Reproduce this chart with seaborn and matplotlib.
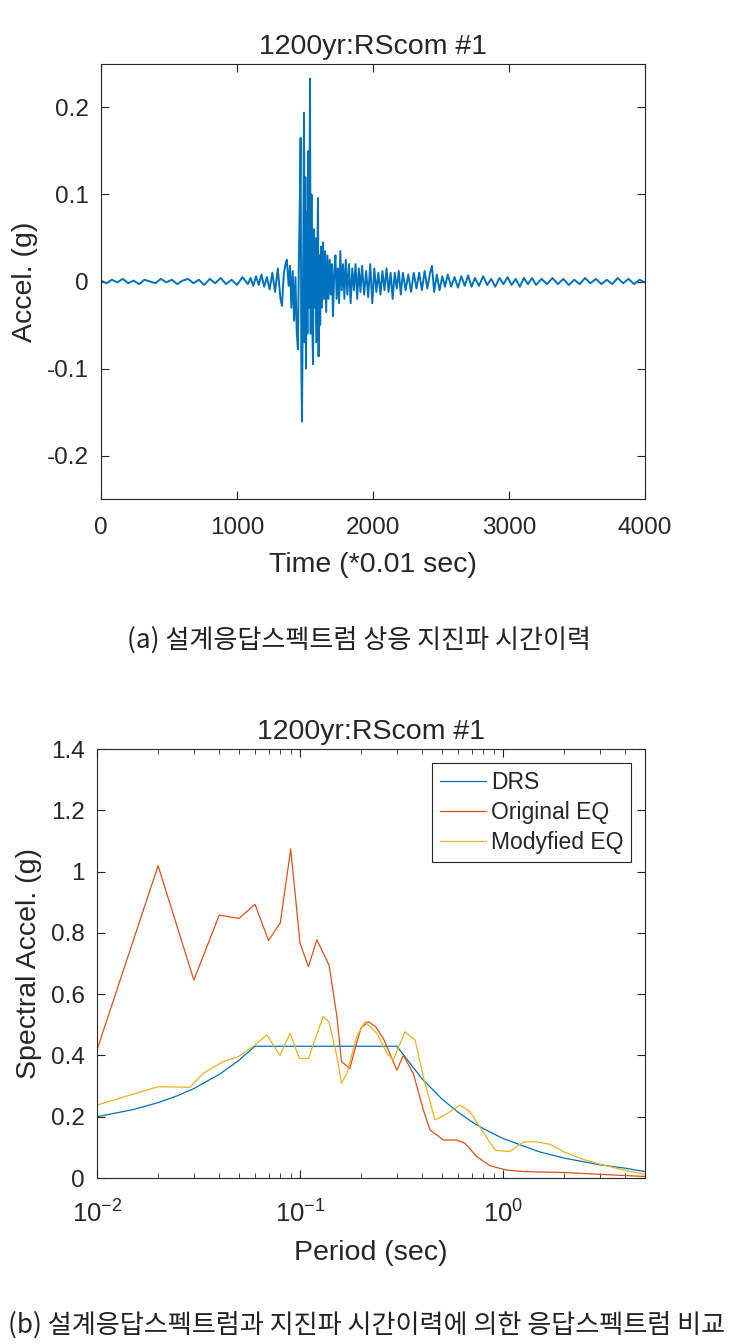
import seaborn as sns
import matplotlib.pyplot as plt
import matplotlib.ticker as mticker
import pandas as pd

# time history (a)
t_pre = [0, 40, 80, 120, 160, 200, 240, 280, 320, 360,
         400, 440, 480, 520, 560, 600, 640, 680, 720, 760,
         800, 840, 880, 920, 960, 1000, 1040, 1080]
a_pre = [0.001, -0.002, 0.002, -0.001, 0.003, -0.002, 0.001, -0.003, 0.002, 0.000,
         -0.002, 0.003, -0.001, 0.002, -0.003, 0.001, 0.003, -0.002, 0.002, -0.004,
         0.003, -0.002, 0.004, -0.003, 0.002, -0.004, 0.005, -0.003]

t_strong = [1100, 1120, 1140, 1160, 1180, 1200, 1220, 1240, 1260, 1280,
            1300, 1320, 1331, 1345, 1360, 1367, 1380, 1390, 1400, 1410,
            1420, 1430, 1440, 1448, 1455, 1462, 1468, 1473, 1478, 1483,
            1488, 1493, 1498, 1503, 1508, 1513, 1518, 1524, 1530, 1537,
            1542, 1548, 1553, 1559, 1565, 1571, 1577, 1583, 1590, 1596,
            1600, 1606, 1612, 1618, 1625, 1632, 1640]
a_strong = [0.004, -0.005, 0.006, -0.004, 0.008, -0.006, 0.005, -0.009, 0.010, -0.012,
            0.015, -0.020, -0.028, 0.010, 0.022, 0.025, -0.005, 0.018, -0.030, 0.012,
            -0.045, 0.005, -0.060, -0.078, 0.020, 0.090, 0.165, -0.090, -0.161, -0.050,
            0.050, 0.194, -0.070, 0.120, -0.100, 0.080, -0.060, 0.150, -0.030, 0.233,
            -0.060, 0.100, -0.040, -0.095, 0.060, -0.030, 0.050, -0.070, 0.020, 0.096,
            -0.086, 0.030, -0.050, 0.040, -0.030, 0.045, -0.020]

t_coda = [1648, 1656, 1665, 1673, 1682, 1690, 1698, 1706, 1715, 1724,
          1733, 1742, 1751, 1760, 1770, 1780, 1790, 1800, 1812, 1824,
          1836, 1848, 1860, 1872, 1884, 1896, 1908, 1920, 1935, 1950,
          1965, 1980, 1995, 2010, 2025, 2040, 2055, 2070, 2085, 2100,
          2115, 2130, 2145, 2160, 2175, 2190, 2205, 2220, 2240, 2260,
          2280, 2300, 2320, 2340, 2360, 2380, 2400, 2420, 2434, 2450,
          2470, 2490]
a_coda = [0.035, -0.035, 0.030, -0.020, 0.025, -0.015, 0.020, -0.040, 0.010, 0.030,
          -0.020, 0.015, -0.025, 0.035, -0.010, 0.020, -0.020, 0.025, -0.015, 0.020,
          -0.025, 0.015, -0.010, 0.020, -0.020, 0.015, -0.012, 0.018, -0.015, 0.012,
          -0.018, 0.020, -0.025, 0.015, -0.012, 0.010, -0.015, 0.012, -0.010, 0.015,
          -0.012, 0.010, -0.020, 0.010, -0.008, 0.012, -0.015, 0.010, -0.010, 0.008,
          -0.012, 0.010, -0.008, 0.010, -0.010, 0.012, -0.008, 0.010, 0.018, -0.012,
          0.008, -0.010]

t_tail = [2510, 2530, 2550, 2575, 2600, 2625, 2650, 2675, 2700, 2725,
          2750, 2780, 2810, 2840, 2870, 2900, 2930, 2960, 2990, 3020,
          3050, 3080, 3110, 3140, 3170, 3200, 3240, 3280, 3320, 3360,
          3400, 3440, 3480, 3520, 3560, 3600, 3640, 3680, 3720, 3760,
          3800, 3840, 3880, 3920, 3960, 4000]
a_tail = [0.006, -0.006, 0.008, -0.006, 0.005, -0.007, 0.006, -0.005, 0.007, -0.006,
          0.004, -0.005, 0.006, -0.004, 0.003, -0.006, 0.004, -0.003, 0.005, -0.004,
          0.003, -0.006, 0.004, -0.003, 0.004, -0.004, 0.003, -0.003, 0.004, -0.003,
          0.003, -0.004, 0.002, -0.003, 0.004, -0.002, 0.003, -0.003, 0.002, -0.003,
          0.004, -0.002, 0.003, -0.003, 0.002, -0.001]

th_time = t_pre + t_strong + t_coda + t_tail
th_accel = a_pre + a_strong + a_coda + a_tail

# response spectra (b)
period_drs = [0.01, 0.015, 0.02, 0.025, 0.03, 0.04, 0.05, 0.06, 0.3, 0.4,
              0.5, 0.6, 0.7, 0.8, 1.0, 1.5, 2.0, 3.0, 4.0, 5.0]
sa_drs = [0.200, 0.223, 0.246, 0.269, 0.292, 0.338, 0.384, 0.430, 0.430, 0.323,
          0.258, 0.215, 0.184, 0.161, 0.129, 0.086, 0.065, 0.043, 0.032, 0.021]

period_orig = [0.01, 0.02, 0.03, 0.04, 0.05, 0.06, 0.07, 0.08, 0.09, 0.1,
               0.11, 0.121, 0.139, 0.152, 0.16, 0.176, 0.19, 0.2, 0.217, 0.235,
               0.257, 0.3, 0.323, 0.362, 0.405, 0.437, 0.508, 0.592, 0.65, 0.742,
               0.863, 1.04, 1.26, 2.0, 3.0, 4.0, 5.0]
sa_orig = [0.418, 1.019, 0.646, 0.858, 0.847, 0.893, 0.775, 0.833, 1.074, 0.766,
           0.690, 0.777, 0.695, 0.527, 0.380, 0.358, 0.440, 0.490, 0.510, 0.495,
           0.456, 0.352, 0.401, 0.340, 0.222, 0.157, 0.124, 0.124, 0.113, 0.070,
           0.040, 0.026, 0.021, 0.018, 0.012, 0.008, 0.005]

period_mod = [0.01, 0.02, 0.0287, 0.0334, 0.0419, 0.0497, 0.06, 0.0686, 0.0797, 0.0893,
              0.0993, 0.11, 0.13, 0.139, 0.152, 0.16, 0.17, 0.19, 0.209, 0.239,
              0.268, 0.288, 0.329, 0.369, 0.405, 0.462, 0.518, 0.614, 0.688, 0.785,
              0.914, 1.08, 1.26, 1.47, 1.7, 2.0, 2.5, 3.0, 4.0, 5.0]
sa_mod = [0.238, 0.298, 0.296, 0.342, 0.380, 0.396, 0.434, 0.467, 0.400, 0.472,
          0.390, 0.390, 0.527, 0.510, 0.396, 0.309, 0.340, 0.461, 0.510, 0.472,
          0.407, 0.385, 0.477, 0.450, 0.330, 0.190, 0.206, 0.238, 0.216, 0.157,
          0.091, 0.086, 0.118, 0.118, 0.110, 0.085, 0.060, 0.045, 0.025, 0.012]

log_ticks = [0.01, 0.1, 1.0]
log_labels = ['$10^{-2}$', '$10^{-1}$', '$10^{0}$']

title_txt = "1200yr:RScom #1"
caption_a = "(a) 설계응답스펙트럼 상응 지진파 시간이력"
caption_b = "(b) 설계응답스펙트럼과 지진파 시간이력에 의한 응답스펙트럼 비교"

sns.set_style("white")
plt.rcParams['font.family'] = ['Liberation Sans', 'DejaVu Sans']
plt.rcParams['axes.unicode_minus'] = False
plt.rcParams['mathtext.fontset'] = 'custom'
plt.rcParams['mathtext.rm'] = 'Liberation Sans'
plt.rcParams['mathtext.it'] = 'Liberation Sans'
plt.rcParams['mathtext.default'] = 'regular'
plt.rcParams['axes.edgecolor'] = '#262626'
plt.rcParams['axes.linewidth'] = 0.8

fig = plt.figure(figsize=(7.33, 13.44), dpi=100)
ax1 = fig.add_axes([0.1378, 0.6287, 0.742, 0.3237])
ax2 = fig.add_axes([0.1323, 0.1235, 0.7476, 0.3192])

# (a) time history
sns.lineplot(x=th_time, y=th_accel, ax=ax1, color='#0072BD', linewidth=1.4, estimator=None)
ax1.set_xlim(0, 4000)
ax1.set_ylim(-0.25, 0.25)
ax1.set_xticks([0, 1000, 2000, 3000, 4000])
ax1.set_yticks([-0.2, -0.1, 0, 0.1, 0.2])
ax1.yaxis.set_major_formatter(mticker.FormatStrFormatter('%g'))
ax1.set_title(title_txt, fontsize=20.5, pad=7)
ax1.set_xlabel("Time (*0.01 sec)", fontsize=20.5, labelpad=9)
ax1.set_ylabel("Accel. (g)", fontsize=20.5, labelpad=6)

# (b) spectra
sns.lineplot(x=period_drs, y=sa_drs, ax=ax2, color='#0072BD', linewidth=0.9, label='DRS', estimator=None)
sns.lineplot(x=period_orig, y=sa_orig, ax=ax2, color='#D95319', linewidth=0.9, label='Original EQ', estimator=None)
sns.lineplot(x=period_mod, y=sa_mod, ax=ax2, color='#EDB120', linewidth=0.9, label='Modyfied EQ', estimator=None)
ax2.set_xscale('log')
ax2.set_xlim(0.01, 5)
ax2.set_ylim(0, 1.4)
ax2.set_xticks(log_ticks)
ax2.set_xticklabels(log_labels)
ax2.xaxis.set_minor_locator(mticker.LogLocator(base=10, subs=[2, 3, 4, 5, 6, 7, 8, 9]))
ax2.xaxis.set_minor_formatter(mticker.NullFormatter())
ax2.set_yticks([0, 0.2, 0.4, 0.6, 0.8, 1.0, 1.2, 1.4])
ax2.yaxis.set_major_formatter(mticker.FormatStrFormatter('%g'))
ax2.set_title(title_txt, fontsize=20.5, pad=7)
ax2.set_xlabel("Period (sec)", fontsize=20.5, labelpad=9)
ax2.set_ylabel("Spectral Accel. (g)", fontsize=20.5, labelpad=6)
leg = ax2.legend(loc='upper right', fontsize=16.5, frameon=True, fancybox=False,
                 edgecolor='#262626', framealpha=1, borderaxespad=0.6,
                 handlelength=2.0, handletextpad=0.2, labelspacing=0.3, borderpad=0.35)
leg.get_frame().set_linewidth(0.8)

for ax in (ax1, ax2):
    ax.tick_params(which='major', direction='in', length=6, width=0.8, labelsize=17.5,
                   bottom=True, left=True, top=True, right=True, pad=9,
                   colors='#262626', labelcolor='#262626')
    ax.tick_params(axis='x', which='minor', direction='in', length=3.5, width=0.6,
                   bottom=True, top=True, colors='#262626')
    ax.tick_params(axis='x', which='major', pad=13)
    for s in ax.spines.values():
        s.set_visible(True)
        s.set_color('#262626')
ax2.tick_params(axis='x', which='major', pad=16, labelsize=18.5)

fig.text(0.49, 1 - 640 / 1344, caption_a, ha='center', va='center',
         fontsize=18.8, family=['Noto Sans CJK KR', 'DejaVu Sans'], color='#222222')
fig.text(0.5, 1 - 1325 / 1344, caption_b, ha='center', va='center',
         fontsize=18.8, family=['Noto Sans CJK KR', 'DejaVu Sans'], color='#222222')

fig.savefig('out.png', dpi=100)
